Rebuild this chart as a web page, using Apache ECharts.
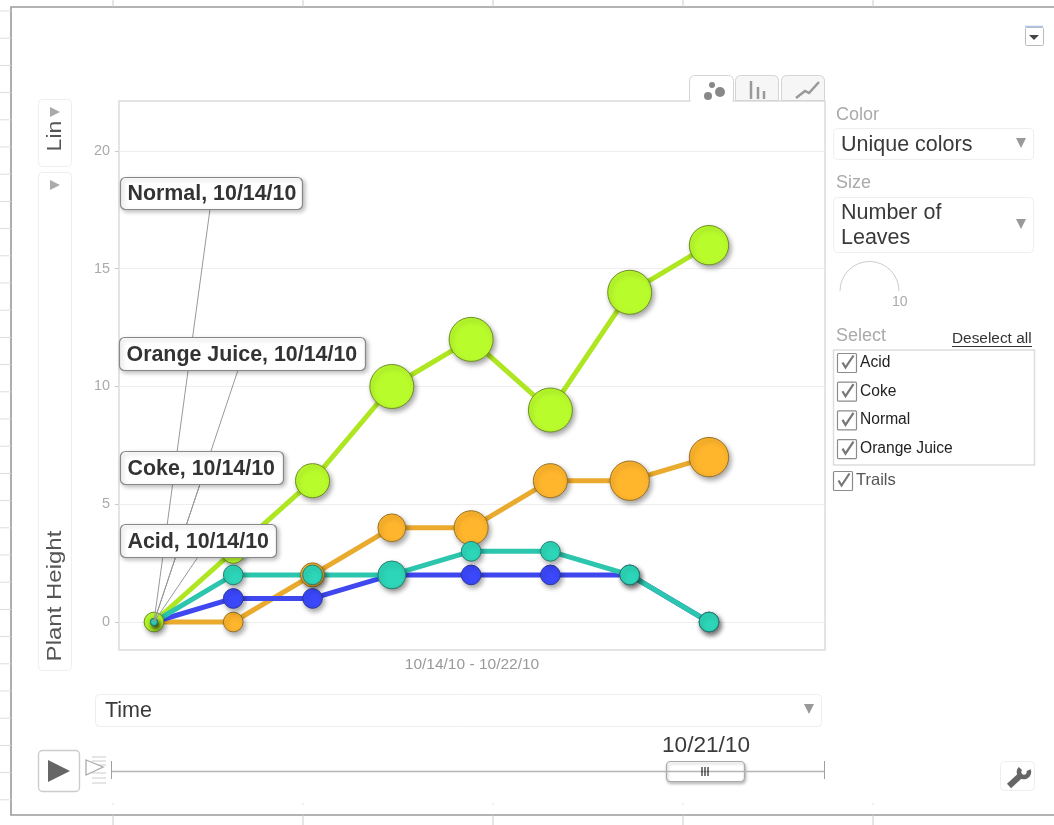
<!DOCTYPE html>
<html>
<head>
<meta charset="utf-8">
<title>Plant Height</title>
<style>
  html, body { margin: 0; padding: 0; background: #fff; }
  #main { width: 1054px; height: 825px; }
</style>
</head>
<body>
<div id="main"></div>
<script src="https://cdn.jsdelivr.net/npm/echarts@6/dist/echarts.min.js"></script>
<script>
var FONT = '"Liberation Sans", Arial, sans-serif'

var dates = ['2010-10-14', '2010-10-15', '2010-10-16', '2010-10-17', '2010-10-18', '2010-10-19', '2010-10-20', '2010-10-21']
var yTicks = [0, 5, 10, 15, 20]
var entityNames = ['Acid', 'Coke', 'Normal', 'Orange Juice']

// plant height per day
var normalHeight = [0, 3, 6, 10, 12, 9, 14, 16]
var orangeHeight = [0, 0, 2, 4, 4, 6, 6, 7]
var acidHeight = [0, 1, 1, 2, 2, 2, 2, 0]
var cokeHeight = [0, 2, 2, 2, 3, 3, 2, 0]

// number of leaves per day
var normalLeaves = [2, 3, 6, 10, 10, 10, 10, 8]
var orangeLeaves = [0, 2, 3, 4, 6, 6, 8, 8]
var acidLeaves = [0, 2, 2, 2, 2, 2, 2, 2]
var cokeLeaves = [0, 2, 2, 4, 2, 2, 2, 2]

var DAY = 86400000

function bubbleSize(leaves) {
  return Math.max(7, 44 * Math.sqrt(leaves / 10))
}

function makeSeries(name, heights, leaves, lineColor, fill, border) {
  return {
    name: name,
    type: 'line',
    silent: true,
    animation: false,
    showAllSymbol: true,
    symbol: 'circle',
    symbolSize: function (val) { return bubbleSize(val[2]) },
    data: dates.map(function (d, i) { return [d, heights[i], leaves[i]] }),
    lineStyle: { color: lineColor, width: 5 },
    itemStyle: {
      color: fill,
      borderColor: border,
      borderWidth: 1,
      shadowColor: 'rgba(0,0,0,0.35)',
      shadowBlur: 5,
      shadowOffsetX: 2,
      shadowOffsetY: 3
    }
  }
}

/* ---- helpers for the motion chart controls ---- */
function box(x, y, w, h, opt) {
  opt = opt || {}
  return {
    type: 'rect', silent: true, z: opt.z || 0,
    shape: { x: x, y: y, width: w, height: h, r: opt.r === undefined ? 4 : opt.r },
    style: {
      fill: opt.fill || '#fff', stroke: opt.stroke || '#eeeeee', lineWidth: opt.lineWidth || 1,
      shadowBlur: opt.shadowBlur || 0, shadowColor: opt.shadowColor || 'transparent',
      shadowOffsetX: opt.shadowOffsetX || 0, shadowOffsetY: opt.shadowOffsetY || 0
    }
  }
}
function label(str, x, y, size, color, opt) {
  opt = opt || {}
  return {
    type: 'text', silent: true, z: opt.z || 1, x: x, y: y,
    rotation: opt.rotation || 0, scaleX: opt.scaleX || 1,
    style: {
      text: str, fill: color, font: (opt.bold ? 'bold ' : '') + size + 'px ' + FONT,
      textAlign: opt.align || 'left', textVerticalAlign: 'middle',
      align: opt.align || 'left', verticalAlign: 'middle'
    }
  }
}
function line(x1, y1, x2, y2, color, width, z) {
  return {
    type: 'line', silent: true, z: z || 1,
    shape: { x1: x1, y1: y1, x2: x2, y2: y2 },
    style: { stroke: color, lineWidth: width || 1 }
  }
}
function poly(points, fill, stroke, width, closed) {
  return {
    type: closed === false ? 'polyline' : 'polygon', silent: true, z: 1,
    shape: { points: points },
    style: { fill: fill || 'none', stroke: stroke || 'none', lineWidth: width || 1 }
  }
}
function circle(cx, cy, r, fill) {
  return { type: 'circle', silent: true, z: 1, shape: { cx: cx, cy: cy, r: r }, style: { fill: fill } }
}
function downArrow(cx, cy) {
  return poly([[cx - 5, cy - 5], [cx + 5, cy - 5], [cx, cy + 5]], '#999')
}
function rightArrow(cx, cy) {
  return poly([[cx - 5, cy - 5], [cx + 5, cy], [cx - 5, cy + 5]], '#aaa')
}
function checkbox(x, y) {
  return [
    box(x, y, 19, 19, { r: 1, stroke: '#8c8c8c', lineWidth: 1.2 }),
    poly([[x + 5, y + 9], [x + 8, y + 14], [x + 16, y + 2]], null, '#777', 2.2, false)
  ]
}

function buildControls() {
  var els = []
  var i
  // spreadsheet behind the gadget
  for (i = 0; i < 30; i++) {
    els.push(line(0, 11 + i * 27.2, 11, 11 + i * 27.2, '#dddddd', 1))
  }
  ;[113, 303, 493, 683, 873].forEach(function (x) {
    els.push(line(x, 0, x, 7, '#cccccc', 1))
    els.push(line(x, 815, x, 825, '#cccccc', 1))
    els.push(line(x, 803.5, x, 804.5, '#bbbbbb', 1))
  })
  els.push(box(11, 7, 1060, 808, { r: 0, fill: 'none', stroke: '#9a9a9a', lineWidth: 1.6 }))

  // top right menu button
  els.push(line(1025, 26.5, 1043, 26.5, '#a9c4ee', 1.5))
  els.push(box(1025.5, 27.5, 18, 18, { r: 1, stroke: '#bbbbbb' }))
  els.push(poly([[1029, 35], [1039, 35], [1034, 40]], '#444'))

  // chart type tabs
  els.push(box(735.5, 75.5, 43, 25, { r: [5, 5, 0, 0], fill: '#f6f6f6', stroke: '#d4d4d4' }))
  els.push(box(781.5, 75.5, 43, 25, { r: [5, 5, 0, 0], fill: '#f6f6f6', stroke: '#d4d4d4' }))
  els.push(box(689.5, 75.5, 44, 25, { r: [5, 5, 0, 0], fill: '#fff', stroke: '#d4d4d4' }))
  els.push(line(690.5, 101, 732.5, 101, '#ffffff', 2, 5))
  els.push(circle(708, 96, 4, '#888'), circle(720, 92, 5, '#888'), circle(712, 85, 3, '#888'))
  els.push(line(751, 81, 751, 99, '#999', 2.5), line(758, 87, 758, 99, '#999', 2.5), line(764, 91, 764, 99, '#999', 2.5))
  els.push(poly([[796, 98], [805, 91], [809, 93], [819, 82]], null, '#999', 2.5, false))

  // axis selectors on the left, wide text in the original so scaled a bit
  els.push(box(38.5, 99.5, 33, 67))
  els.push(rightArrow(55, 112))
  els.push(label('Lin', 55, 136, 21, '#555', { rotation: Math.PI / 2, align: 'center', scaleX: 1.1 }))
  els.push(box(38.5, 172.5, 33, 498))
  els.push(rightArrow(55, 185))
  els.push(label('Plant Height', 55, 596, 21, '#555', { rotation: Math.PI / 2, align: 'center', scaleX: 1.143 }))

  // right panel
  els.push(label('Color', 836, 115, 18, '#aaa'))
  els.push(box(833.5, 128.5, 200, 31))
  els.push(label('Unique colors', 841, 145, 21.5, '#3a3a3a'))
  els.push(downArrow(1021, 143))
  els.push(label('Size', 836, 183, 18, '#aaa'))
  els.push(box(833.5, 197.5, 200, 55))
  els.push(label('Number of', 841, 213, 21.5, '#3a3a3a'))
  els.push(label('Leaves', 841, 238, 21.5, '#3a3a3a'))
  els.push(downArrow(1021, 224))
  els.push({
    type: 'arc', silent: true, z: 1,
    shape: { cx: 869.5, cy: 291, r: 29.5, startAngle: Math.PI, endAngle: 2 * Math.PI },
    style: { fill: 'none', stroke: '#cccccc', lineWidth: 1 }
  })
  els.push(label('10', 892, 302, 14, '#aaa'))
  els.push(label('Select', 836, 336, 18, '#aaa'))
  els.push(label('Deselect all', 952, 339, 15.4, '#333'))
  els.push(line(952, 346.5, 1032, 346.5, '#333', 1))
  els.push(box(833.5, 350, 201, 115, { r: 0, stroke: '#dddddd', lineWidth: 1.5 }))
  entityNames.forEach(function (name, idx) {
    var y = 353.5 + idx * 28.7
    els = els.concat(checkbox(837.5, y))
    els.push(label(name, 860, y + 9, 15.6, '#222'))
  })
  els = els.concat(checkbox(833.5, 471.5))
  els.push(label('Trails', 856, 480, 16.5, '#555'))

  // x axis selector and time slider
  els.push(label('10/14/10 - 10/22/10', 472, 665, 15.5, '#999', { align: 'center' }))
  els.push(box(95.5, 694.5, 726, 32))
  els.push(label('Time', 105, 711, 21.5, '#3a3a3a'))
  els.push(downArrow(809, 709))

  els.push(box(38.5, 750.5, 41, 41, { stroke: '#cccccc', lineWidth: 1.4 }))
  els.push(poly([[48, 760], [70, 771], [48, 782]], '#666'))
  ;[757, 761, 765, 773, 778, 783].forEach(function (y) {
    els.push(line(92, y, 106, y, '#cccccc', 1))
  })
  els.push(poly([[86, 760], [103, 767], [86, 775]], '#fff', '#aaa', 1.3))

  els.push(line(111.5, 771.5, 824.5, 771.5, '#b4b4b4', 1.3))
  els.push(line(111.5, 761, 111.5, 779, '#a0a0a0', 1))
  els.push(line(824.5, 761, 824.5, 779, '#a0a0a0', 1))
  els.push(label('10/21/10', 706, 746, 22.6, '#3a3a3a', { align: 'center' }))
  els.push(box(666.5, 761.5, 78, 20, {
    stroke: '#aaaaaa', lineWidth: 1.2, shadowBlur: 3, shadowColor: 'rgba(0,0,0,0.25)', shadowOffsetX: 1, shadowOffsetY: 2
  }))
  els.push(line(702, 767, 702, 776, '#222', 1.2), line(705, 767, 705, 776, '#222', 1.2), line(708, 767, 708, 776, '#222', 1.2))

  // wrench button
  els.push(box(1000.5, 761.5, 34, 29))
  els.push(line(1009, 786, 1021, 775, '#666', 6))
  els.push({
    type: 'arc', silent: true, z: 1,
    shape: { cx: 1024, cy: 772, r: 5, startAngle: -0.4, endAngle: 3.9 },
    style: { fill: 'none', stroke: '#666', lineWidth: 4.5 }
  })
  return els
}

var chart = echarts.init(document.getElementById('main'), null, { renderer: 'canvas' })

chart.setOption({
  animation: false,
  backgroundColor: '#fff',
  textStyle: { fontFamily: FONT },
  tooltip: { show: false },
  legend: { show: false },
  grid: {
    show: true,
    left: 119,
    top: 101,
    width: 706,
    height: 549,
    backgroundColor: '#fff',
    borderColor: '#dcdcdc',
    borderWidth: 1.5
  },
  xAxis: {
    type: 'time',
    min: Date.parse(dates[0]) - 0.441 * DAY,
    max: Date.parse(dates[0]) + 8.463 * DAY,
    axisLine: { show: false },
    axisTick: { show: false },
    axisLabel: { show: false },
    splitLine: { show: false }
  },
  yAxis: {
    type: 'value',
    min: -1.189,
    max: 22.123,
    axisLine: { show: false },
    axisTick: { show: true, length: 4, customValues: yTicks, lineStyle: { color: '#cccccc' } },
    axisLabel: { show: true, customValues: yTicks, margin: 9, color: '#aaaaaa', fontSize: 14.4, fontFamily: FONT },
    splitLine: { show: true, customValues: yTicks, lineStyle: { color: '#eeeeee', width: 1 } }
  },
  series: [
    makeSeries('Normal', normalHeight, normalLeaves, '#aee621', '#b9fc2c', '#6f8f25'),
    makeSeries('Orange Juice', orangeHeight, orangeLeaves, '#eaaa2e', '#ffb52c', '#96742a'),
    makeSeries('Acid', acidHeight, acidLeaves, '#3f47ee', '#3b48fb', '#2c3a9c'),
    makeSeries('Coke', cokeHeight, cokeLeaves, '#2cc5ad', '#2dd6b8', '#22806f')
  ],
  graphic: { elements: buildControls() }
})

// callouts pinned to the first day, leader lines start at the data point
var origin = chart.convertToPixel({ xAxisIndex: 0, yAxisIndex: 0 }, [dates[0], 0])
var callouts = [
  { name: 'Normal', x: 120.5, y: 177.5, w: 182, h: 32, ax: 210, ay: 209 },
  { name: 'Orange Juice', x: 119.5, y: 337.5, w: 246, h: 33, ax: 238, ay: 370 },
  { name: 'Coke', x: 120.5, y: 451.5, w: 163, h: 33, ax: 200, ay: 484 },
  { name: 'Acid', x: 120.5, y: 524.5, w: 156, h: 33, ax: 198, ay: 557 }
]
var calloutEls = []
callouts.forEach(function (c) {
  calloutEls.push(line(origin[0], origin[1], c.ax, c.ay, '#999999', 1, 20))
})
callouts.forEach(function (c) {
  calloutEls.push(box(c.x, c.y, c.w, c.h, {
    z: 21, r: 5, stroke: '#888888', lineWidth: 1.2,
    shadowBlur: 4, shadowColor: 'rgba(0,0,0,0.25)', shadowOffsetX: 2, shadowOffsetY: 2
  }))
  calloutEls.push(label(c.name + ', 10/14/10', c.x + 7, c.y + c.h / 2 + 1, 21.4, '#333333', { z: 22, bold: true }))
})
chart.setOption({ graphic: { elements: buildControls().concat(calloutEls) } })

window.addEventListener('resize', function () { chart.resize() })
</script>
</body>
</html>
